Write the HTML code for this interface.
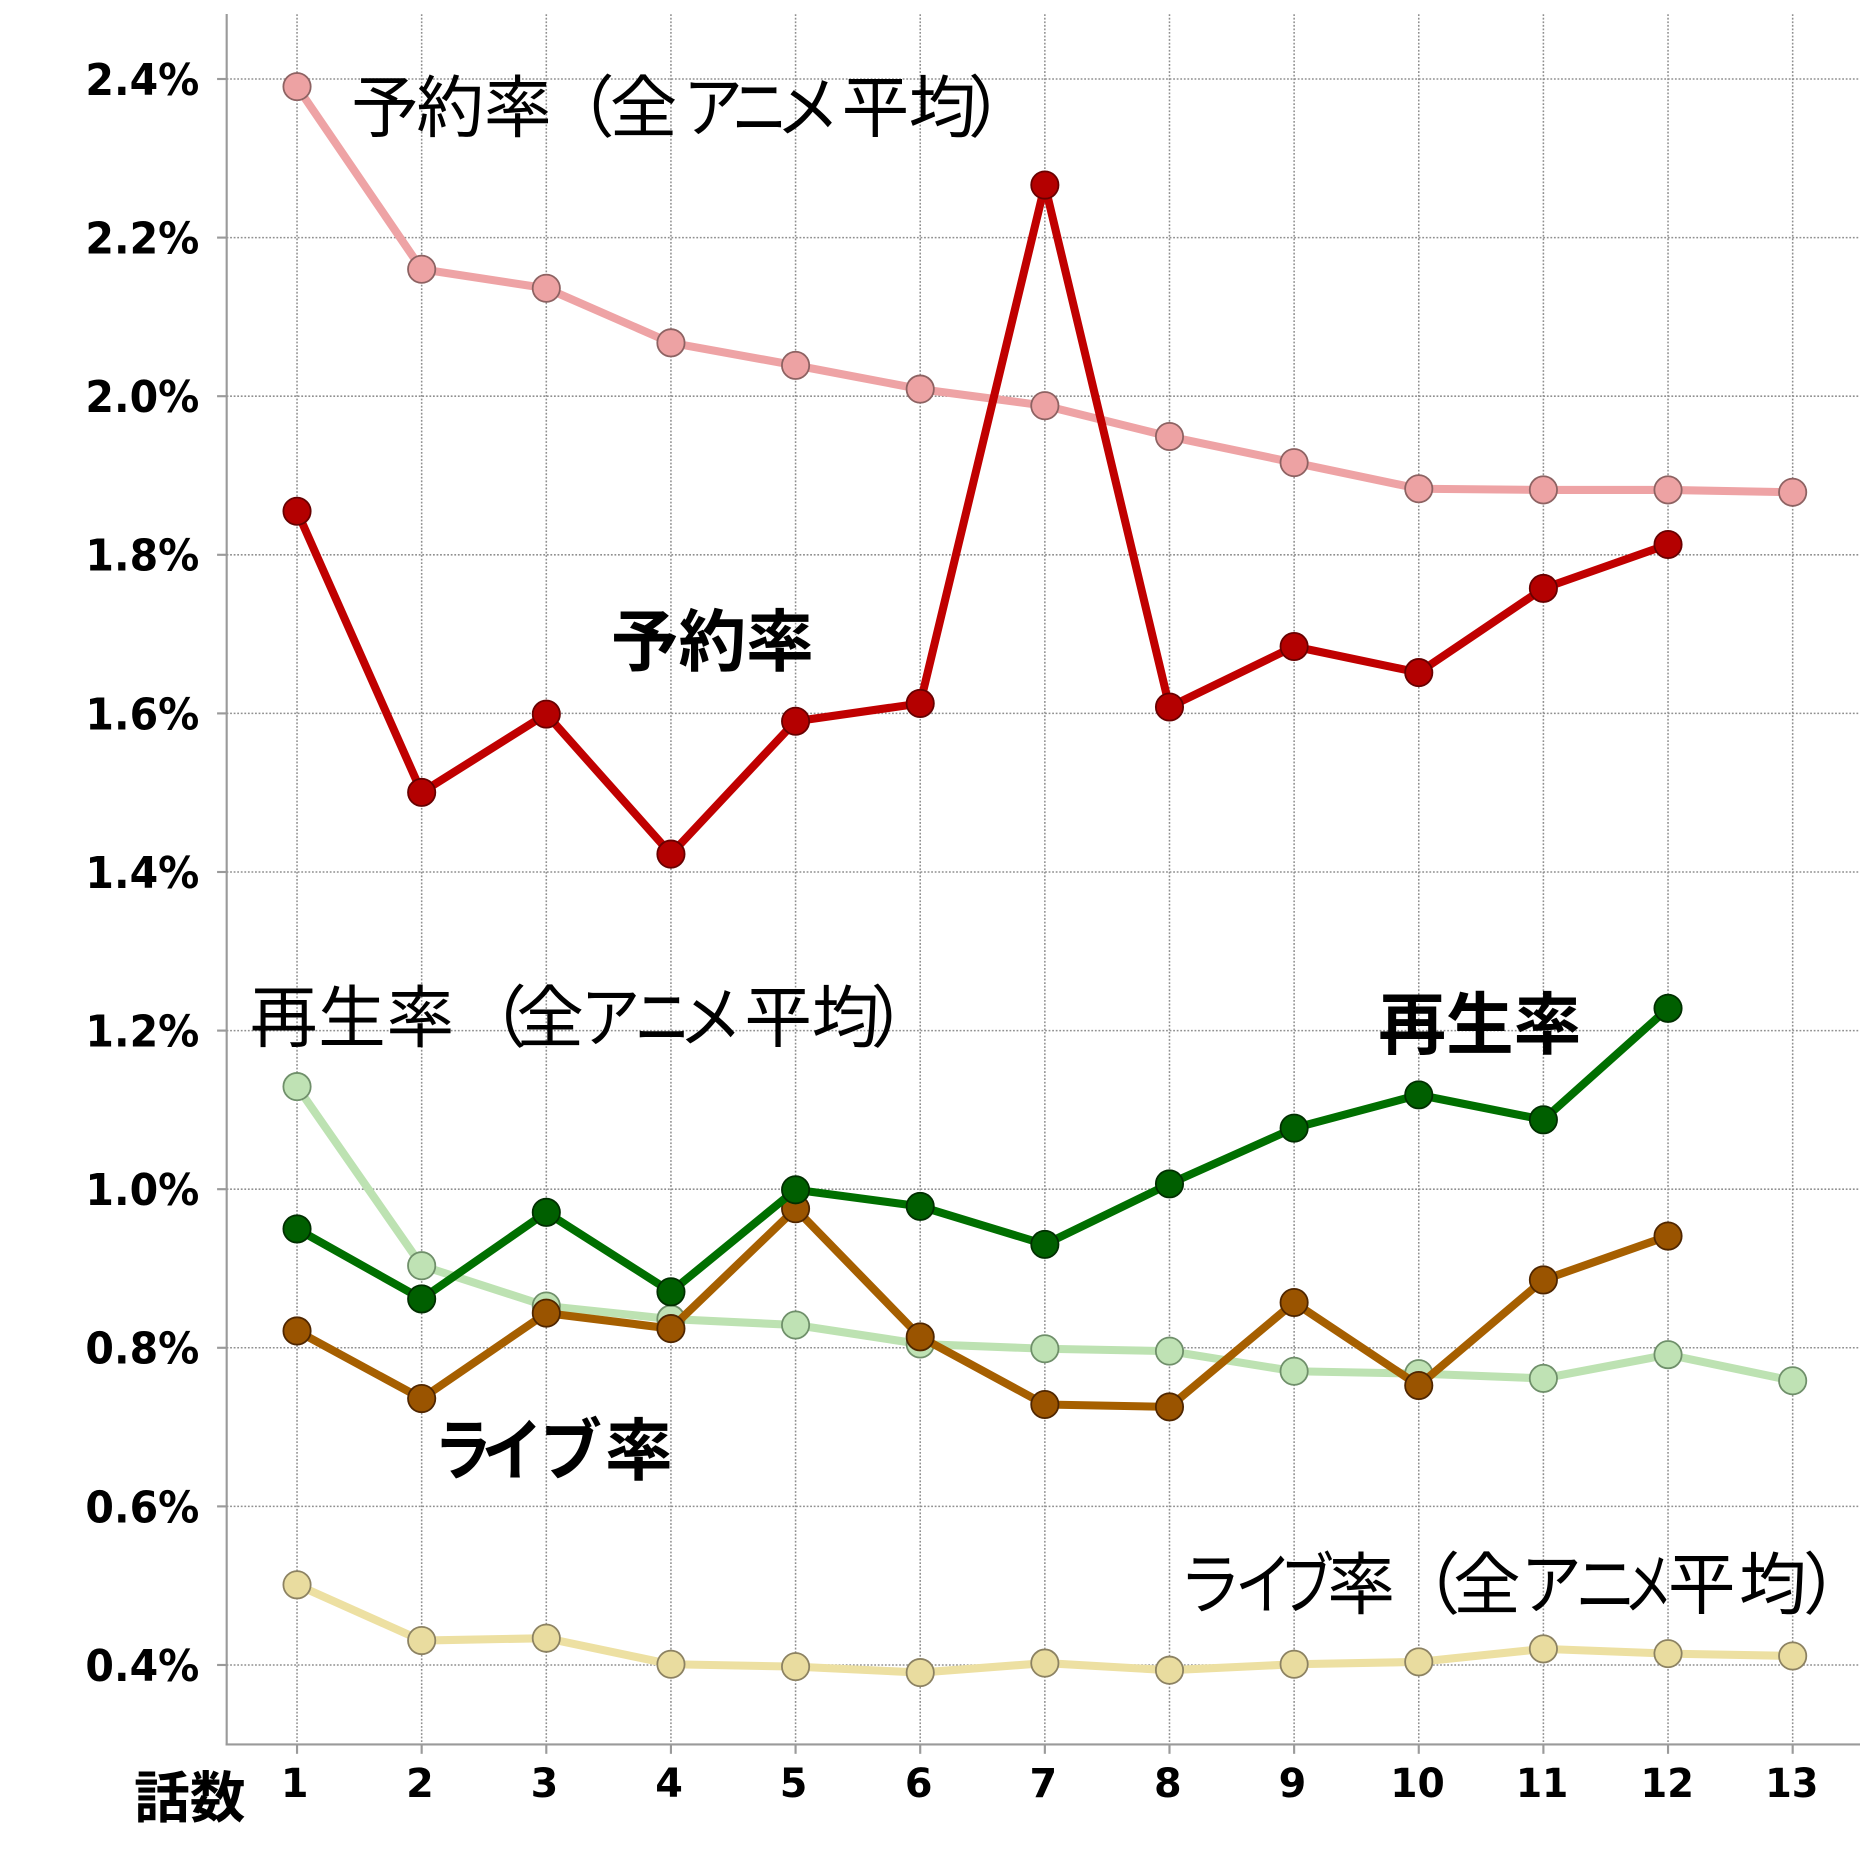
<!DOCTYPE html>
<html><head><meta charset="utf-8">
<style>
html,body{margin:0;padding:0;background:#fff;}
svg{display:block;}
.yl{font-family:"DejaVu Sans","Liberation Sans",sans-serif;font-weight:bold;font-size:36.5px;fill:#000;text-anchor:end;}
.xl{font-family:"DejaVu Sans","Liberation Sans",sans-serif;font-weight:bold;font-size:33.5px;fill:#000;text-anchor:middle;}
.jr{font-family:"Liberation Sans","Noto Sans CJK JP",sans-serif;font-size:57px;fill:#000;}
.jb{font-family:"Liberation Sans","Noto Sans CJK JP",sans-serif;font-size:57px;font-weight:bold;fill:#000;}
</style></head>
<body>
<svg width="1860" height="1860" viewBox="0 0 1568 1568" xmlns="http://www.w3.org/2000/svg">
<rect x="0" y="0" width="1568" height="1568" fill="#fff"/>
<!-- grid -->
<g stroke="#8f8f8f" stroke-width="1.3" stroke-dasharray="1.5 1.5" fill="none">
<line x1="191" y1="66.6" x2="1568" y2="66.6"/>
<line x1="191" y1="200.3" x2="1568" y2="200.3"/>
<line x1="191" y1="334" x2="1568" y2="334"/>
<line x1="191" y1="467.7" x2="1568" y2="467.7"/>
<line x1="191" y1="601.4" x2="1568" y2="601.4"/>
<line x1="191" y1="735.1" x2="1568" y2="735.1"/>
<line x1="191" y1="868.8" x2="1568" y2="868.8"/>
<line x1="191" y1="1002.5" x2="1568" y2="1002.5"/>
<line x1="191" y1="1136.2" x2="1568" y2="1136.2"/>
<line x1="191" y1="1269.9" x2="1568" y2="1269.9"/>
<line x1="191" y1="1403.6" x2="1568" y2="1403.6"/>
<line x1="250.4" y1="12" x2="250.4" y2="1470"/>
<line x1="355.47" y1="12" x2="355.47" y2="1470"/>
<line x1="460.54" y1="12" x2="460.54" y2="1470"/>
<line x1="565.61" y1="12" x2="565.61" y2="1470"/>
<line x1="670.68" y1="12" x2="670.68" y2="1470"/>
<line x1="775.75" y1="12" x2="775.75" y2="1470"/>
<line x1="880.82" y1="12" x2="880.82" y2="1470"/>
<line x1="985.89" y1="12" x2="985.89" y2="1470"/>
<line x1="1090.96" y1="12" x2="1090.96" y2="1470"/>
<line x1="1196.03" y1="12" x2="1196.03" y2="1470"/>
<line x1="1301.1" y1="12" x2="1301.1" y2="1470"/>
<line x1="1406.17" y1="12" x2="1406.17" y2="1470"/>
<line x1="1511.24" y1="12" x2="1511.24" y2="1470"/>
</g>
<!-- axes -->
<g stroke="#9a9a9a" stroke-width="1.8" fill="none">
<line x1="191.1" y1="11.8" x2="191.1" y2="1471.5"/>
<line x1="190.2" y1="1470.6" x2="1568" y2="1470.6"/>
<line x1="183" y1="66.6" x2="191" y2="66.6"/>
<line x1="183" y1="200.3" x2="191" y2="200.3"/>
<line x1="183" y1="334" x2="191" y2="334"/>
<line x1="183" y1="467.7" x2="191" y2="467.7"/>
<line x1="183" y1="601.4" x2="191" y2="601.4"/>
<line x1="183" y1="735.1" x2="191" y2="735.1"/>
<line x1="183" y1="868.8" x2="191" y2="868.8"/>
<line x1="183" y1="1002.5" x2="191" y2="1002.5"/>
<line x1="183" y1="1136.2" x2="191" y2="1136.2"/>
<line x1="183" y1="1269.9" x2="191" y2="1269.9"/>
<line x1="183" y1="1403.6" x2="191" y2="1403.6"/>
<line x1="250.4" y1="1470.6" x2="250.4" y2="1478.5"/>
<line x1="355.47" y1="1470.6" x2="355.47" y2="1478.5"/>
<line x1="460.54" y1="1470.6" x2="460.54" y2="1478.5"/>
<line x1="565.61" y1="1470.6" x2="565.61" y2="1478.5"/>
<line x1="670.68" y1="1470.6" x2="670.68" y2="1478.5"/>
<line x1="775.75" y1="1470.6" x2="775.75" y2="1478.5"/>
<line x1="880.82" y1="1470.6" x2="880.82" y2="1478.5"/>
<line x1="985.89" y1="1470.6" x2="985.89" y2="1478.5"/>
<line x1="1090.96" y1="1470.6" x2="1090.96" y2="1478.5"/>
<line x1="1196.03" y1="1470.6" x2="1196.03" y2="1478.5"/>
<line x1="1301.1" y1="1470.6" x2="1301.1" y2="1478.5"/>
<line x1="1406.17" y1="1470.6" x2="1406.17" y2="1478.5"/>
<line x1="1511.24" y1="1470.6" x2="1511.24" y2="1478.5"/>
</g>
<!-- y labels -->
<text class="yl" x="168" y="80" textLength="96" lengthAdjust="spacingAndGlyphs">2.4%</text>
<text class="yl" x="168" y="213.7" textLength="96" lengthAdjust="spacingAndGlyphs">2.2%</text>
<text class="yl" x="168" y="347.4" textLength="96" lengthAdjust="spacingAndGlyphs">2.0%</text>
<text class="yl" x="168" y="481.1" textLength="96" lengthAdjust="spacingAndGlyphs">1.8%</text>
<text class="yl" x="168" y="614.8" textLength="96" lengthAdjust="spacingAndGlyphs">1.6%</text>
<text class="yl" x="168" y="748.5" textLength="96" lengthAdjust="spacingAndGlyphs">1.4%</text>
<text class="yl" x="168" y="882.2" textLength="96" lengthAdjust="spacingAndGlyphs">1.2%</text>
<text class="yl" x="168" y="1015.9" textLength="96" lengthAdjust="spacingAndGlyphs">1.0%</text>
<text class="yl" x="168" y="1149.6" textLength="96" lengthAdjust="spacingAndGlyphs">0.8%</text>
<text class="yl" x="168" y="1283.3" textLength="96" lengthAdjust="spacingAndGlyphs">0.6%</text>
<text class="yl" x="168" y="1417" textLength="96" lengthAdjust="spacingAndGlyphs">0.4%</text>
<!-- x labels -->
<text class="xl" x="248.4" y="1515">1</text>
<text class="xl" x="354" y="1515">2</text>
<text class="xl" x="459" y="1515">3</text>
<text class="xl" x="564" y="1515">4</text>
<text class="xl" x="669" y="1515">5</text>
<text class="xl" x="774.5" y="1515">6</text>
<text class="xl" x="879.5" y="1515">7</text>
<text class="xl" x="984.5" y="1515">8</text>
<text class="xl" x="1089.5" y="1515">9</text>
<text class="xl" x="1195" y="1515" textLength="46" lengthAdjust="spacingAndGlyphs">10</text>
<text class="xl" x="1300" y="1515" textLength="44" lengthAdjust="spacingAndGlyphs">11</text>
<text class="xl" x="1405.5" y="1515" textLength="45" lengthAdjust="spacingAndGlyphs">12</text>
<text class="xl" x="1510.5" y="1515" textLength="45" lengthAdjust="spacingAndGlyphs">13</text>
<text class="jb" x="113" y="1532" style="font-size:47px">話数</text>

<!-- series lines -->
<g fill="none" stroke-width="6.8" stroke-linejoin="round" stroke-linecap="round">
<polyline stroke="#eea3a5" points="250.4,73 355.47,227 460.54,243 565.61,289 670.68,308 775.75,328 880.82,342 985.89,368 1090.96,390 1196.03,412 1301.1,413 1406.17,413 1511.24,415"/>
<polyline stroke="#bde2b2" points="250.4,916 355.47,1067 460.54,1101 565.61,1112 670.68,1117 775.75,1133 880.82,1137 985.89,1139 1090.96,1156 1196.03,1158 1301.1,1162 1406.17,1142 1511.24,1164"/>
<polyline stroke="#ede0a2" points="250.4,1336 355.47,1383 460.54,1381 565.61,1403 670.68,1405 775.75,1410 880.82,1402 985.89,1408 1090.96,1403 1196.03,1401 1301.1,1390 1406.17,1394 1511.24,1396"/>
</g>
<g stroke-width="1.5">
<g fill="#eda2a3" stroke="#8d6262">
<circle cx="250.4" cy="73" r="11.5"/><circle cx="355.47" cy="227" r="11.5"/><circle cx="460.54" cy="243" r="11.5"/><circle cx="565.61" cy="289" r="11.5"/><circle cx="670.68" cy="308" r="11.5"/><circle cx="775.75" cy="328" r="11.5"/><circle cx="880.82" cy="342" r="11.5"/><circle cx="985.89" cy="368" r="11.5"/><circle cx="1090.96" cy="390" r="11.5"/><circle cx="1196.03" cy="412" r="11.5"/><circle cx="1301.1" cy="413" r="11.5"/><circle cx="1406.17" cy="413" r="11.5"/><circle cx="1511.24" cy="415" r="11.5"/>
</g>
<g fill="#bfe2b4" stroke="#6f8f6a">
<circle cx="250.4" cy="916" r="11.5"/><circle cx="355.47" cy="1067" r="11.5"/><circle cx="460.54" cy="1101" r="11.5"/><circle cx="565.61" cy="1112" r="11.5"/><circle cx="670.68" cy="1117" r="11.5"/><circle cx="775.75" cy="1133" r="11.5"/><circle cx="880.82" cy="1137" r="11.5"/><circle cx="985.89" cy="1139" r="11.5"/><circle cx="1090.96" cy="1156" r="11.5"/><circle cx="1196.03" cy="1158" r="11.5"/><circle cx="1301.1" cy="1162" r="11.5"/><circle cx="1406.17" cy="1142" r="11.5"/><circle cx="1511.24" cy="1164" r="11.5"/>
</g>
<g fill="#e9dc9f" stroke="#8c8262">
<circle cx="250.4" cy="1336" r="11.5"/><circle cx="355.47" cy="1383" r="11.5"/><circle cx="460.54" cy="1381" r="11.5"/><circle cx="565.61" cy="1403" r="11.5"/><circle cx="670.68" cy="1405" r="11.5"/><circle cx="775.75" cy="1410" r="11.5"/><circle cx="880.82" cy="1402" r="11.5"/><circle cx="985.89" cy="1408" r="11.5"/><circle cx="1090.96" cy="1403" r="11.5"/><circle cx="1196.03" cy="1401" r="11.5"/><circle cx="1301.1" cy="1390" r="11.5"/><circle cx="1406.17" cy="1394" r="11.5"/><circle cx="1511.24" cy="1396" r="11.5"/>
</g>
</g>

<!-- brown: ライブ率 -->
<polyline fill="none" stroke="#a65f00" stroke-width="6.8" stroke-linejoin="round" points="250.4,1122 355.47,1179 460.54,1107 565.61,1120 670.68,1019 775.75,1127 880.82,1184 985.89,1186 1090.96,1098 1196.03,1168 1301.1,1079 1406.17,1042"/>
<g fill="#9a5400" stroke="#4f2600" stroke-width="1.5">
<circle cx="250.4" cy="1122" r="11.5"/><circle cx="355.47" cy="1179" r="11.5"/><circle cx="460.54" cy="1107" r="11.5"/><circle cx="565.61" cy="1120" r="11.5"/><circle cx="670.68" cy="1019" r="11.5"/><circle cx="775.75" cy="1127" r="11.5"/><circle cx="880.82" cy="1184" r="11.5"/><circle cx="985.89" cy="1186" r="11.5"/><circle cx="1090.96" cy="1098" r="11.5"/><circle cx="1196.03" cy="1168" r="11.5"/><circle cx="1301.1" cy="1079" r="11.5"/><circle cx="1406.17" cy="1042" r="11.5"/>
</g>
<!-- dark green: 再生率 -->
<polyline fill="none" stroke="#006f00" stroke-width="6.8" stroke-linejoin="round" points="250.4,1036 355.47,1095 460.54,1022 565.61,1089 670.68,1003 775.75,1017 880.82,1049 985.89,998 1090.96,951 1196.03,923 1301.1,944 1406.17,850"/>
<g fill="#005f00" stroke="#002f00" stroke-width="1.5">
<circle cx="250.4" cy="1036" r="11.5"/><circle cx="355.47" cy="1095" r="11.5"/><circle cx="460.54" cy="1022" r="11.5"/><circle cx="565.61" cy="1089" r="11.5"/><circle cx="670.68" cy="1003" r="11.5"/><circle cx="775.75" cy="1017" r="11.5"/><circle cx="880.82" cy="1049" r="11.5"/><circle cx="985.89" cy="998" r="11.5"/><circle cx="1090.96" cy="951" r="11.5"/><circle cx="1196.03" cy="923" r="11.5"/><circle cx="1301.1" cy="944" r="11.5"/><circle cx="1406.17" cy="850" r="11.5"/>
</g>
<!-- dark red: 予約率 -->
<polyline fill="none" stroke="#c00000" stroke-width="6.8" stroke-linejoin="round" points="250.4,431 355.47,668 460.54,602 565.61,720 670.68,608 775.75,593 880.82,156 985.89,596 1090.96,545 1196.03,567 1301.1,496 1406.17,459"/>
<g fill="#b40000" stroke="#680000" stroke-width="1.5">
<circle cx="250.4" cy="431" r="11.5"/><circle cx="355.47" cy="668" r="11.5"/><circle cx="460.54" cy="602" r="11.5"/><circle cx="565.61" cy="720" r="11.5"/><circle cx="670.68" cy="608" r="11.5"/><circle cx="775.75" cy="593" r="11.5"/><circle cx="880.82" cy="156" r="11.5"/><circle cx="985.89" cy="596" r="11.5"/><circle cx="1090.96" cy="545" r="11.5"/><circle cx="1196.03" cy="567" r="11.5"/><circle cx="1301.1" cy="496" r="11.5"/><circle cx="1406.17" cy="459" r="11.5"/>
</g>

<!-- label 1: 予約率（全アニメ平均） -->
<g class="jr">
<text x="296" y="111">予</text>
<text x="351" y="111">約</text>
<text x="408" y="111">率</text>
<text x="461" y="111">（</text>
<text x="514" y="111">全</text>
<text transform="translate(576,111) scale(0.88,1)">ア</text>
<text transform="translate(617,111) scale(0.82,1)">ニ</text>
<text transform="translate(654,111) scale(0.95,1)">メ</text>
<text x="709.5" y="111">平</text>
<text x="766" y="111">均</text>
<text x="816" y="111">）</text>
</g>
<text class="jb" x="515" y="561">予約率</text>
<!-- label 3: 再生率（全アニメ平均） -->
<g class="jr">
<text x="210.6" y="878">再</text>
<text x="268.2" y="878">生</text>
<text x="325.8" y="878">率</text>
<text x="387" y="878">（</text>
<text x="435.3" y="878">全</text>
<text transform="translate(489.5,878) scale(0.88,1)">ア</text>
<text transform="translate(535,878) scale(0.82,1)">ニ</text>
<text transform="translate(572,878) scale(0.95,1)">メ</text>
<text x="627.5" y="878">平</text>
<text x="684.3" y="878">均</text>
<text x="734" y="878">）</text>
</g>
<text class="jb" x="1162" y="884">再生率</text>
<g class="jb">
<text transform="translate(366,1243) scale(0.85,1)">ラ</text>
<text transform="translate(406,1243) scale(0.9,1)">イ</text>
<text transform="translate(455,1243) scale(0.92,1)">ブ</text>
<text x="510" y="1243">率</text>
</g>
<!-- label 6: ライブ率（全アニメ平均） -->
<g class="jr">
<text transform="translate(994,1356) scale(0.92,1)">ラ</text>
<text transform="translate(1041,1356) scale(0.85,1)">イ</text>
<text transform="translate(1079,1356) scale(0.8,1)">ブ</text>
<text x="1119" y="1356">率</text>
<text x="1174" y="1356">（</text>
<text x="1225" y="1356">全</text>
<text transform="translate(1282,1356) scale(0.9,1)">ア</text>
<text transform="translate(1328,1356) scale(0.9,1)">ニ</text>
<text transform="translate(1369,1356) scale(0.72,1)">メ</text>
<text x="1406" y="1356">平</text>
<text x="1466" y="1356">均</text>
<text x="1520" y="1356">）</text>
</g>
</svg>
</body></html>
